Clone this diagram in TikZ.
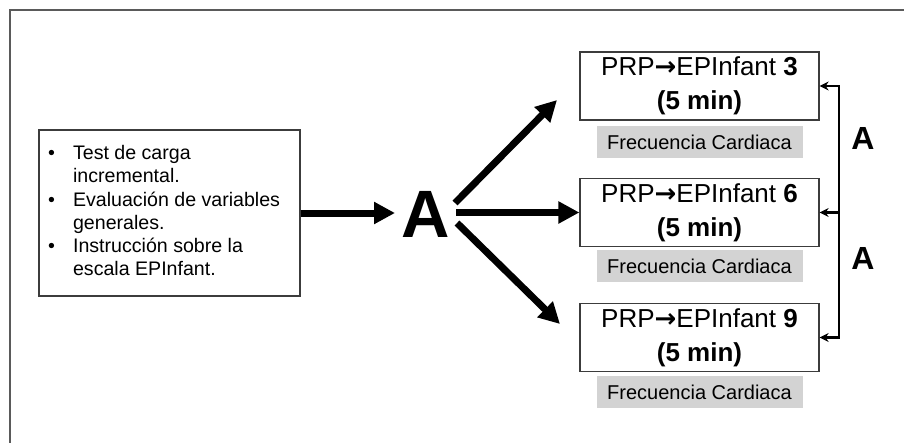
\documentclass[tikz,border=0pt]{standalone}
\usepackage{fontspec}
\setmainfont{Liberation Sans}
\newfontfamily\djv{DejaVu Sans}
\usetikzlibrary{arrows.meta}
\definecolor{framegray}{HTML}{5A5A5A}
\definecolor{boxline}{HTML}{3C3C3C}
\definecolor{labelgray}{HTML}{D3D3D3}
\newcommand{\prparrow}{{\djv\bfseries →}}
\tikzset{
  stagebox/.style={draw=boxline, line width=1.2pt, minimum width=239pt, minimum height=68pt, inner sep=0pt, align=center, font=\fontsize{26}{34}\selectfont},
  fclabel/.style={fill=labelgray, minimum width=206pt, minimum height=32pt, inner sep=0pt, font=\fontsize{20}{22}\selectfont},
  bigarrow/.style={line width=7pt, -{Triangle[length=21pt, width=21pt]}},
  smallarrow/.style={line width=2.4pt, -{Stealth[length=9pt, width=9pt]}},
  biga/.style={font=\fontsize{67}{67}\selectfont\bfseries, inner sep=0pt},
  sidea/.style={font=\fontsize{32}{32}\selectfont\bfseries, inner sep=0pt}
}
\begin{document}
\begin{tikzpicture}[x=1pt, y=-1pt]
\useasboundingbox (0,0) rectangle (904,442);
% outer frame (only top and left visible)
\draw[framegray, line width=1.7pt] (10,450) -- (10,10) -- (910,10);
% left box
\node[draw=boxline, line width=1.2pt, minimum width=261pt, minimum height=166pt, inner sep=0pt] (left) at (169.5,213) {};
\node[anchor=west, inner sep=0pt, font=\fontsize{19.6}{23.3}\selectfont] (lefttext) at (48,213) {%
\begin{tabular}{@{}l@{\hspace{18pt}}l@{}}
\textbullet & Test de carga\\
 & incremental.\\
\textbullet & Evaluación de variables\\
 & generales.\\
\textbullet & Instrucción sobre la\\
 & escala EPInfant.
\end{tabular}};
% big A
\node[biga] (A) at (426,214) {A};
% right boxes
\node[stagebox] (b3) at (699.5,86) {PRP\prparrow EPInfant \textbf{3}\\\textbf{(5 min)}};
\node[stagebox] (b6) at (699.5,212.5) {PRP\prparrow EPInfant \textbf{6}\\\textbf{(5 min)}};
\node[stagebox] (b9) at (699.5,337.5) {PRP\prparrow EPInfant \textbf{9}\\\textbf{(5 min)}};
\node[fclabel] (f3) at (699.5,142) {Frecuencia Cardiaca};
\node[fclabel] (f6) at (699.5,266) {Frecuencia Cardiaca};
\node[fclabel] (f9) at (699.5,392) {Frecuencia Cardiaca};
% main arrows
\coordinate (aup0) at (455,203);
\coordinate (aup1) at (557,100);
\coordinate (adn0) at (457,223);
\coordinate (adn1) at (560,324);
\coordinate (amid) at (456,212.5);
\draw[bigarrow] (left.east |- 0,213) -- (395,213) coordinate (ain);
\draw[bigarrow] (amid) -- (b6.west);
\draw[bigarrow] (aup0) -- (aup1);
\draw[bigarrow] (adn0) -- (adn1);
% bracket
\coordinate (br) at (839,0);
\draw[line width=2.4pt, {Stealth[length=9pt, width=9pt]}-{Stealth[length=9pt, width=9pt]}] (b3.east) -- (b3.east -| br) -- (b9.east -| br) -- (b9.east);
\draw[smallarrow] (b6.east -| br) -- (b6.east);
\node[sidea] (a1) at (863,138) {A};
\node[sidea] (a2) at (863,258) {A};
\end{tikzpicture}
\end{document}
